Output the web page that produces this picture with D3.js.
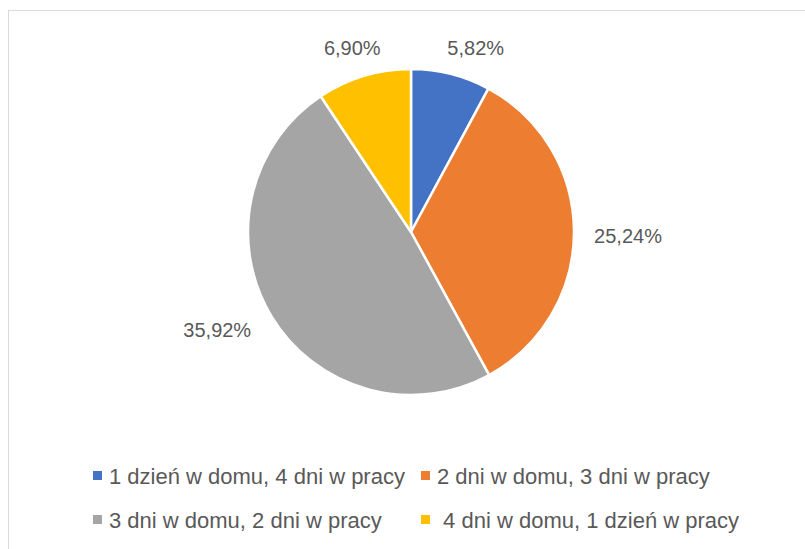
<!DOCTYPE html>
<html>
<head>
<meta charset="utf-8">
<script src="https://cdn.jsdelivr.net/npm/d3@7"></script>
<style>
	body { margin: 0; background: #fff; }
	svg text { font-family: "Liberation Sans", Arial, sans-serif; fill: #595959; white-space: pre; }
</style>
</head>
<body>
<svg id="chart" width="805" height="549"></svg>
<script>
'use strict';

// chart data
var categories = [
	'1 dzień w domu, 4 dni w pracy',
	'2 dni w domu, 3 dni w pracy',
	'3 dni w domu, 2 dni w pracy',
	' 4 dni w domu, 1 dzień w pracy'
];
var values = [5.82, 25.24, 35.92, 6.90];
var colors = ['#4472c4', '#ed7d31', '#a5a5a5', '#ffc000'];

var svg = d3.select('#chart');
var cx = 411, cy = 232, radius = 163;

// chart area frame
svg.append('rect')
	.attr('x', 8.5).attr('y', 10.5)
	.attr('width', 820).attr('height', 560)
	.attr('fill', 'none')
	.attr('stroke', '#d9d9d9')
	.attr('stroke-width', 1);

var pie = d3.pie().sort(null);
var arc = d3.arc().innerRadius(0).outerRadius(radius);
var arcs = pie(values);

var g = svg.append('g').attr('transform', 'translate(' + cx + ',' + cy + ')');

g.selectAll('path.slice')
		.data(arcs)
	.enter()
		.append('path')
		.attr('class', 'slice')
		.attr('d', arc)
		.attr('fill', function (d, i) { return colors[i]; })
		.attr('stroke', '#fff')
		.attr('stroke-width', 2.5)
		.attr('stroke-linejoin', 'round');

// outside data labels
var fmt = function (v) { return v.toFixed(2).replace('.', ',') + '%'; };
var labelArc = d3.arc().innerRadius(radius + 40).outerRadius(radius + 40);

g.selectAll('text.label')
		.data(arcs)
	.enter()
		.append('text')
		.attr('class', 'label')
		.attr('transform', function (d, i) {
			var c = labelArc.centroid(d);
			// small label nudges so they sit where the original puts them
			var nudge = [[15, 13], [14, 5], [-20, -7], [0, 10]][i];
			return 'translate(' + (c[0] + nudge[0]) + ',' + (c[1] + nudge[1]) + ')';
		})
		.attr('text-anchor', 'middle')
		.attr('dy', '0.35em')
		.attr('font-size', 20)
		.text(function (d) { return fmt(d.data); });

// legend, two columns by two rows
var legendX = [97, 425], legendY = [476, 520];
var legend = svg.append('g').attr('class', 'legend');

categories.forEach(function (name, i) {
	var x = legendX[i % 2], y = legendY[Math.floor(i / 2)];
	legend.append('rect')
		.attr('x', x - 4).attr('y', y - 5)
		.attr('width', 9).attr('height', 9)
		.attr('fill', colors[i]);
	legend.append('text')
		.attr('x', x + 12).attr('y', y)
		.attr('dy', '0.35em')
		.attr('font-size', 22)
		.text(name);
});
</script>
</body>
</html>
